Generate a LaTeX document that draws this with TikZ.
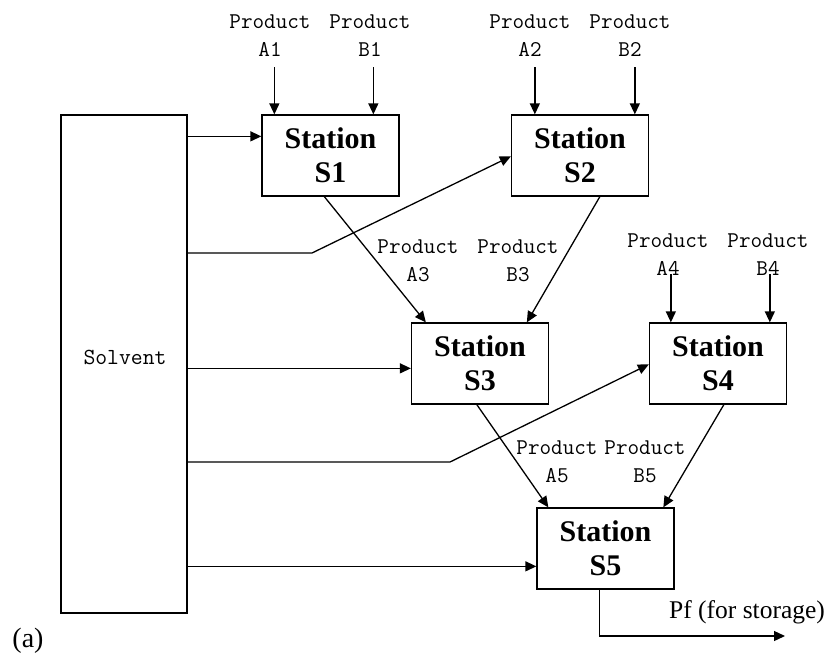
\documentclass[tikz,border=0pt]{standalone}
\usepackage{fontspec}
\setmainfont{Liberation Serif}
\usetikzlibrary{arrows.meta,calc}
\begin{document}
\begin{tikzpicture}[x=1pt,y=-1pt,
  line width=1.3pt,
  arr/.style={-{Triangle[length=11pt,width=10pt]}},
  station/.style={draw, minimum width=137pt, minimum height=81pt, inner sep=0pt, align=center,
    font=\bfseries\fontsize{30}{34}\selectfont},
  prod/.style={align=center, inner sep=0pt, font=\ttfamily\fontsize{22.5}{28}\selectfont},
  solvbox/.style={draw, minimum width=126pt, minimum height=498pt, inner sep=0pt}]
\useasboundingbox (0,0) rectangle (831,657);

% Solvent
\node[solvbox] (sol) at (124,364) {};
\node[inner sep=0pt, font=\ttfamily\fontsize{23}{28}\selectfont] (soltext) at (125,357) {Solvent};

% Stations
\node[station] (s1) at (330.5,155.5) {Station\\S1};
\node[station] (s2) at (580,155.5) {Station\\S2};
\node[station] (s3) at (480,363.5) {Station\\S3};
\node[station] (s4) at (718,363.5) {Station\\S4};
\node[station] (s5) at (605.5,548.5) {Station\\S5};

% Product labels
\node[prod] (pa1) at (270,36) {Product\\A1};
\node[prod] (pb1) at (370,36) {Product\\B1};
\node[prod] (pa2) at (530,36) {Product\\A2};
\node[prod] (pb2) at (630,36) {Product\\B2};
\node[prod] (pa3) at (418,261) {Product\\A3};
\node[prod] (pb3) at (518,261) {Product\\B3};
\node[prod] (pa4) at (668,255) {Product\\A4};
\node[prod] (pb4) at (768,255) {Product\\B4};
\node[prod] (pa5) at (557,462) {Product\\A5};
\node[prod] (pb5) at (645,462) {Product\\B5};

\node[font=\fontsize{25.5}{30}\selectfont, inner sep=0pt] (pflab) at (747,612) {Pf (for storage)};
\node[font=\fontsize{28}{32}\selectfont, inner sep=0pt] (lab) at (28,641) {(a)};

% Product feed arrows
\draw[arr] ($(s1.north west)+(13,-47)$) -- ($(s1.north west)+(13,0)$);
\draw[arr] ($(s1.north west)+(112,-47)$) -- ($(s1.north west)+(112,0)$);
\draw[arr] ($(s2.north west)+(24,-47)$) -- ($(s2.north west)+(24,0)$);
\draw[arr] ($(s2.north west)+(124,-47)$) -- ($(s2.north west)+(124,0)$);
\draw[arr] ($(s4.north west)+(22,-48)$) -- ($(s4.north west)+(22,0)$);
\draw[arr] ($(s4.north west)+(121,-48)$) -- ($(s4.north west)+(121,0)$);

% Solvent feeds
\coordinate (s1in) at ($(s1.north west)+(0,22)$);
\draw[arr] (sol.east |- s1in) -- (s1in);
\coordinate (k2) at (312,253);
\draw[arr] (sol.east |- k2) -- (k2) -- ($(s2.north west)+(0,42)$);
\coordinate (s3in) at ($(s3.north west)+(0,46)$);
\draw[arr] (sol.east |- s3in) -- (s3in);
\coordinate (k4) at (450,462);
\draw[arr] (sol.east |- k4) -- (k4) -- ($(s4.north west)+(0,42)$);
\coordinate (s5in) at ($(s5.north west)+(0,59)$);
\draw[arr] (sol.east |- s5in) -- (s5in);

% Station to station
\draw[arr] ($(s1.south west)+(63,0)$) -- ($(s3.north west)+(15,0)$);
\draw[arr] ($(s2.south west)+(89,0)$) -- ($(s3.north west)+(116,0)$);
\draw[arr] ($(s3.south west)+(66,0)$) -- ($(s5.north west)+(12,0)$);
\draw[arr] ($(s4.south west)+(75,0)$) -- ($(s5.north west)+(127,0)$);

% Output
\coordinate (pf) at (785,636);
\draw[arr] ($(s5.south west)+(63,0)$) |- (pf);
\end{tikzpicture}
\end{document}
